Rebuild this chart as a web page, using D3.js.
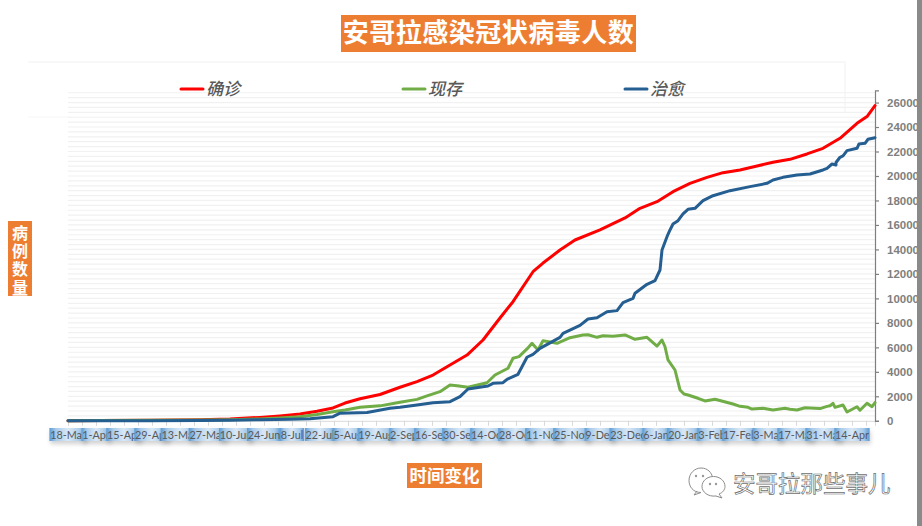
<!DOCTYPE html>
<html><head><meta charset="utf-8">
<script src="https://cdn.jsdelivr.net/npm/d3@7/dist/d3.min.js"></script>
<style>html,body{margin:0;padding:0;background:#fff;overflow:hidden}svg{display:block}</style>
</head><body><svg id="c" width="922" height="526"></svg>
<script>
const tickLabels=["18-Mar","1-Apr","15-Apr","29-Apr","13-May","27-May","10-Jun","24-Jun","8-Jul","22-Jul","5-Aug","19-Aug","2-Sep","16-Sep","30-Sep","14-Oct","28-Oct","11-Nov","25-Nov","9-Dec","23-Dec","6-Jan","20-Jan","3-Feb","17-Feb","3-Mar","17-Mar","31-Mar","14-Apr"];
const yTicks=[0,2000,4000,6000,8000,10000,12000,14000,16000,18000,20000,22000,24000,26000];
const confirmedDays=[0,16,41,66,81,96,106,116,124.5,132.5,138.5,146,156,166,174.5,182.5,191,199.5,207.5,216,222.5,232.5,237.5,246,253.5,266,278.5,286,294.5,302.5,311,319.5,327.5,336,344.5,352.5,361,369.5,377.5,386,394.5,399.5,403.5];
const confirmedValues=[1,20,40,90,150,280,400,550,780,1050,1450,1800,2150,2740,3200,3740,4560,5370,6600,8400,9730,12180,12890,13950,14770,15590,16570,17360,17900,18720,19400,19890,20270,20490,20820,21120,21360,21800,22260,23080,24300,24850,25750];
const activeDays=[0,16,41,66,81,96,106,116,124.5,132.5,138.5,146,156,166,174.5,179.5,186,191,194.5,200,209.5,213.5,220,220,222.5,225.5,229.5,232,235,237.5,244.5,251,257.5,260,264.5,267.5,272.5,278.5,283.5,289.5,294.5,297,298.5,300,303.5,306,308,310,315,318.5,323.5,332.5,336,340,342,347.5,352.5,358.5,361,364.5,368.5,376,379.5,381,382.5,383.5,387.5,389.5,394.5,396,399.5,402,403.5];
const activeValues=[1,15,35,60,90,150,230,340,520,740,880,1100,1220,1510,1750,2030,2380,2920,2870,2740,3110,3740,4290,4290,5110,5240,5870,6330,5780,6540,6330,6790,7010,7030,6820,6950,6900,7010,6660,6820,6100,6600,6050,4970,4150,2520,2190,2110,1840,1620,1760,1370,1180,1100,960,1030,880,1020,940,880,1070,1000,1180,1230,1430,1100,1290,720,1150,860,1430,1150,1480,1640,1970].slice(0,73);
const curedDays=[0,16,41,66,81,96,111,121,132.5,136,149.5,161,166,174.5,182.5,191,196,200,210,212.5,217.5,219.5,225,229.5,232.5,236,246,247.5,256,260,264.5,269.5,274.5,277.5,282.5,283.5,289.5,293.5,296,297,299.5,301,302.5,305,307.5,310,313.5,317.5,322.5,331,341,349.5,352.5,357.5,364.5,371,377.5,379.5,382,384,384,386,387.5,389.5,394.5,395.5,398.5,400,403.5];
const curedValues=[0,5,12,25,50,90,130,170,335,620,680,1020,1100,1290,1480,1560,1970,2600,2840,3060,3110,3390,3800,5190,5430,5920,6820,7150,7800,8320,8420,8910,9000,9650,10000,10420,11150,11450,12320,13950,15040,15590,16080,16350,16900,17280,17360,17980,18390,18800,19130,19400,19670,19890,20080,20160,20490,20630,20980,20900,21100,21530,21640,22070,22260,22620,22670,23000,23130];
const legendLabels=["确诊","现存","治愈"];
const seriesColors=["#ff0000","#70ad47","#255e91"];

const svg=d3.select("#c");
const x=d3.scaleLinear().domain([0,403.5]).range([68,875]);
const y=d3.scaleLinear().domain([0,27000]).range([420.8,90.3]);
const cjk='"Noto Sans CJK SC","Noto Sans",sans-serif';

const defs=svg.append("defs");
const g=defs.append("linearGradient").attr("id","chip");
[[0,"#5b9bd5"],[.18,"#a9cbea"],[.5,"#d9e8f6"],[.82,"#a9cbea"],[1,"#5b9bd5"]].forEach(s=>g.append("stop").attr("offset",s[0]).attr("stop-color",s[1]));
const sh=defs.append("filter").attr("id","sh").attr("x","-20%").attr("y","-30%").attr("width","140%").attr("height","190%");
sh.append("feDropShadow").attr("dx",1).attr("dy",3).attr("stdDeviation",2).attr("flood-color","#000").attr("flood-opacity",.18);

// faint plot frame
const frame=svg.append("g").attr("stroke","#f6f6f6").attr("fill","none");
frame.append("path").attr("d","M28 62H845V113").attr("stroke-width",1.5);
frame.append("path").attr("d","M28 117H70").attr("stroke-width",1);

// minor gridlines
svg.append("g").selectAll("line").data(d3.range(400,27000,400)).join("line")
 .attr("x1",x(0)).attr("x2",x(403.5)).attr("y1",d=>y(d)).attr("y2",d=>y(d))
 .attr("stroke","#f1f1f1").attr("stroke-width",1.2);

// x axis
const xAxis=d3.axisBottom(x).tickValues(d3.range(0,404,7)).tickSize(5).tickFormat("");
const xg=svg.append("g").attr("transform","translate(0,420.8)").call(xAxis);
xg.selectAll("path,line").attr("stroke","#d9d9d9");

// date chips, painted in order so each one covers the overflow of the last
const chips=svg.append("g");
tickLabels.forEach((t,i)=>{
  const cx=x(i*14), c=chips.append("g");
  const r=c.append("rect").attr("y",428).attr("height",13).attr("fill","url(#chip)").attr("filter","url(#sh)");
  const tx=c.append("text").attr("x",cx).attr("y",438.8).attr("text-anchor","middle")
    .attr("font-family","Lato,sans-serif").attr("font-size",10.8).attr("fill","#595959").text(t);
  const w=tx.node().getComputedTextLength()+1.5;
  r.attr("x",cx-w/2).attr("width",w);
});

// y axis
const yAxis=d3.axisRight(y).tickValues(yTicks).tickSize(4).tickPadding(8).tickFormat(d3.format("d"));
const yg=svg.append("g").attr("transform","translate(875,0)").call(yAxis);
yg.selectAll("path,line").attr("stroke","#7f7f7f").attr("stroke-width",1.2);
yg.selectAll("text").attr("font-family",'"Liberation Sans",sans-serif').attr("font-size",11.5).attr("font-weight","bold").attr("fill","#7f7f7f");

// series
const line=d3.line().x(d=>x(d[0])).y(d=>y(d[1]));
[[confirmedDays,confirmedValues],[activeDays,activeValues],[curedDays,curedValues]].forEach((s,i)=>{
  svg.append("path").attr("d",line(d3.zip(s[0],s[1]))).attr("fill","none").attr("stroke",seriesColors[i])
   .attr("stroke-width",3).attr("stroke-linejoin","round").attr("stroke-linecap","round");
});

// legend
[180,402,624].forEach((lx,i)=>{
  svg.append("line").attr("x1",lx+1).attr("x2",lx+23).attr("y1",89).attr("y2",89).attr("stroke",seriesColors[i]).attr("stroke-width",3).attr("stroke-linecap","round");
  svg.append("text").attr("x",lx+26).attr("y",94.5).attr("font-family",cjk).attr("font-size",17).attr("font-style","italic").attr("font-weight",500).attr("fill","#595959").text(legendLabels[i]);
});

// orange labels
function box(a,b,w,h){svg.append("rect").attr("x",a).attr("y",b).attr("width",w).attr("height",h).attr("fill","#ed7d31");}
box(341,15,295,37);
svg.append("text").attr("x",488.5).attr("y",42).attr("text-anchor","middle").attr("font-family",cjk).attr("font-size",26).attr("font-weight",700).attr("letter-spacing",.5).attr("fill","#fff").text("安哥拉感染冠状病毒人数");
box(8,221,24,75);
["病","例","数","量"].forEach((c,i)=>svg.append("text").attr("x",20).attr("y",239+i*18.2).attr("text-anchor","middle").attr("font-family",cjk).attr("font-size",16).attr("font-weight",700).attr("fill","#fff").text(c));
box(407,463,75,25);
svg.append("text").attr("x",444.5).attr("y",481.5).attr("text-anchor","middle").attr("font-family",cjk).attr("font-size",17.5).attr("font-weight",700).attr("fill","#fff").text("时间变化");

// watermark
const wm=svg.append("g");
wm.append("path").attr("d","M697 491l-3 4 7-2.5c-8 0-12-6-12-12 0-7 5.500-12.500 12-12.500s11 4.500 11.500 10").attr("fill","#fff").attr("stroke","#8c8c8c");
wm.append("path").attr("d","M719 494l3 4-6-2c-8 1-14-4-14-9.500s5-10 11.500-10 11.500 4.500 11.500 10c0 3-2 6-6 7.500z").attr("fill","#fff").attr("stroke","#8c8c8c");
[[696,476],[703,476],[710,484],[716,484]].forEach(p=>wm.append("circle").attr("cx",p[0]).attr("cy",p[1]).attr("r",1.2).attr("fill","#999"));
svg.append("text").attr("x",733).attr("y",492).attr("font-family",cjk).attr("font-size",22.5).attr("fill","#fff").attr("stroke","#6e6e6e").attr("stroke-width",.7).text("安哥拉那些事儿");

// right edge bar
svg.append("rect").attr("x",917).attr("y",0).attr("width",5).attr("height",526).attr("fill","#8a8a8a");
</script></body></html>
